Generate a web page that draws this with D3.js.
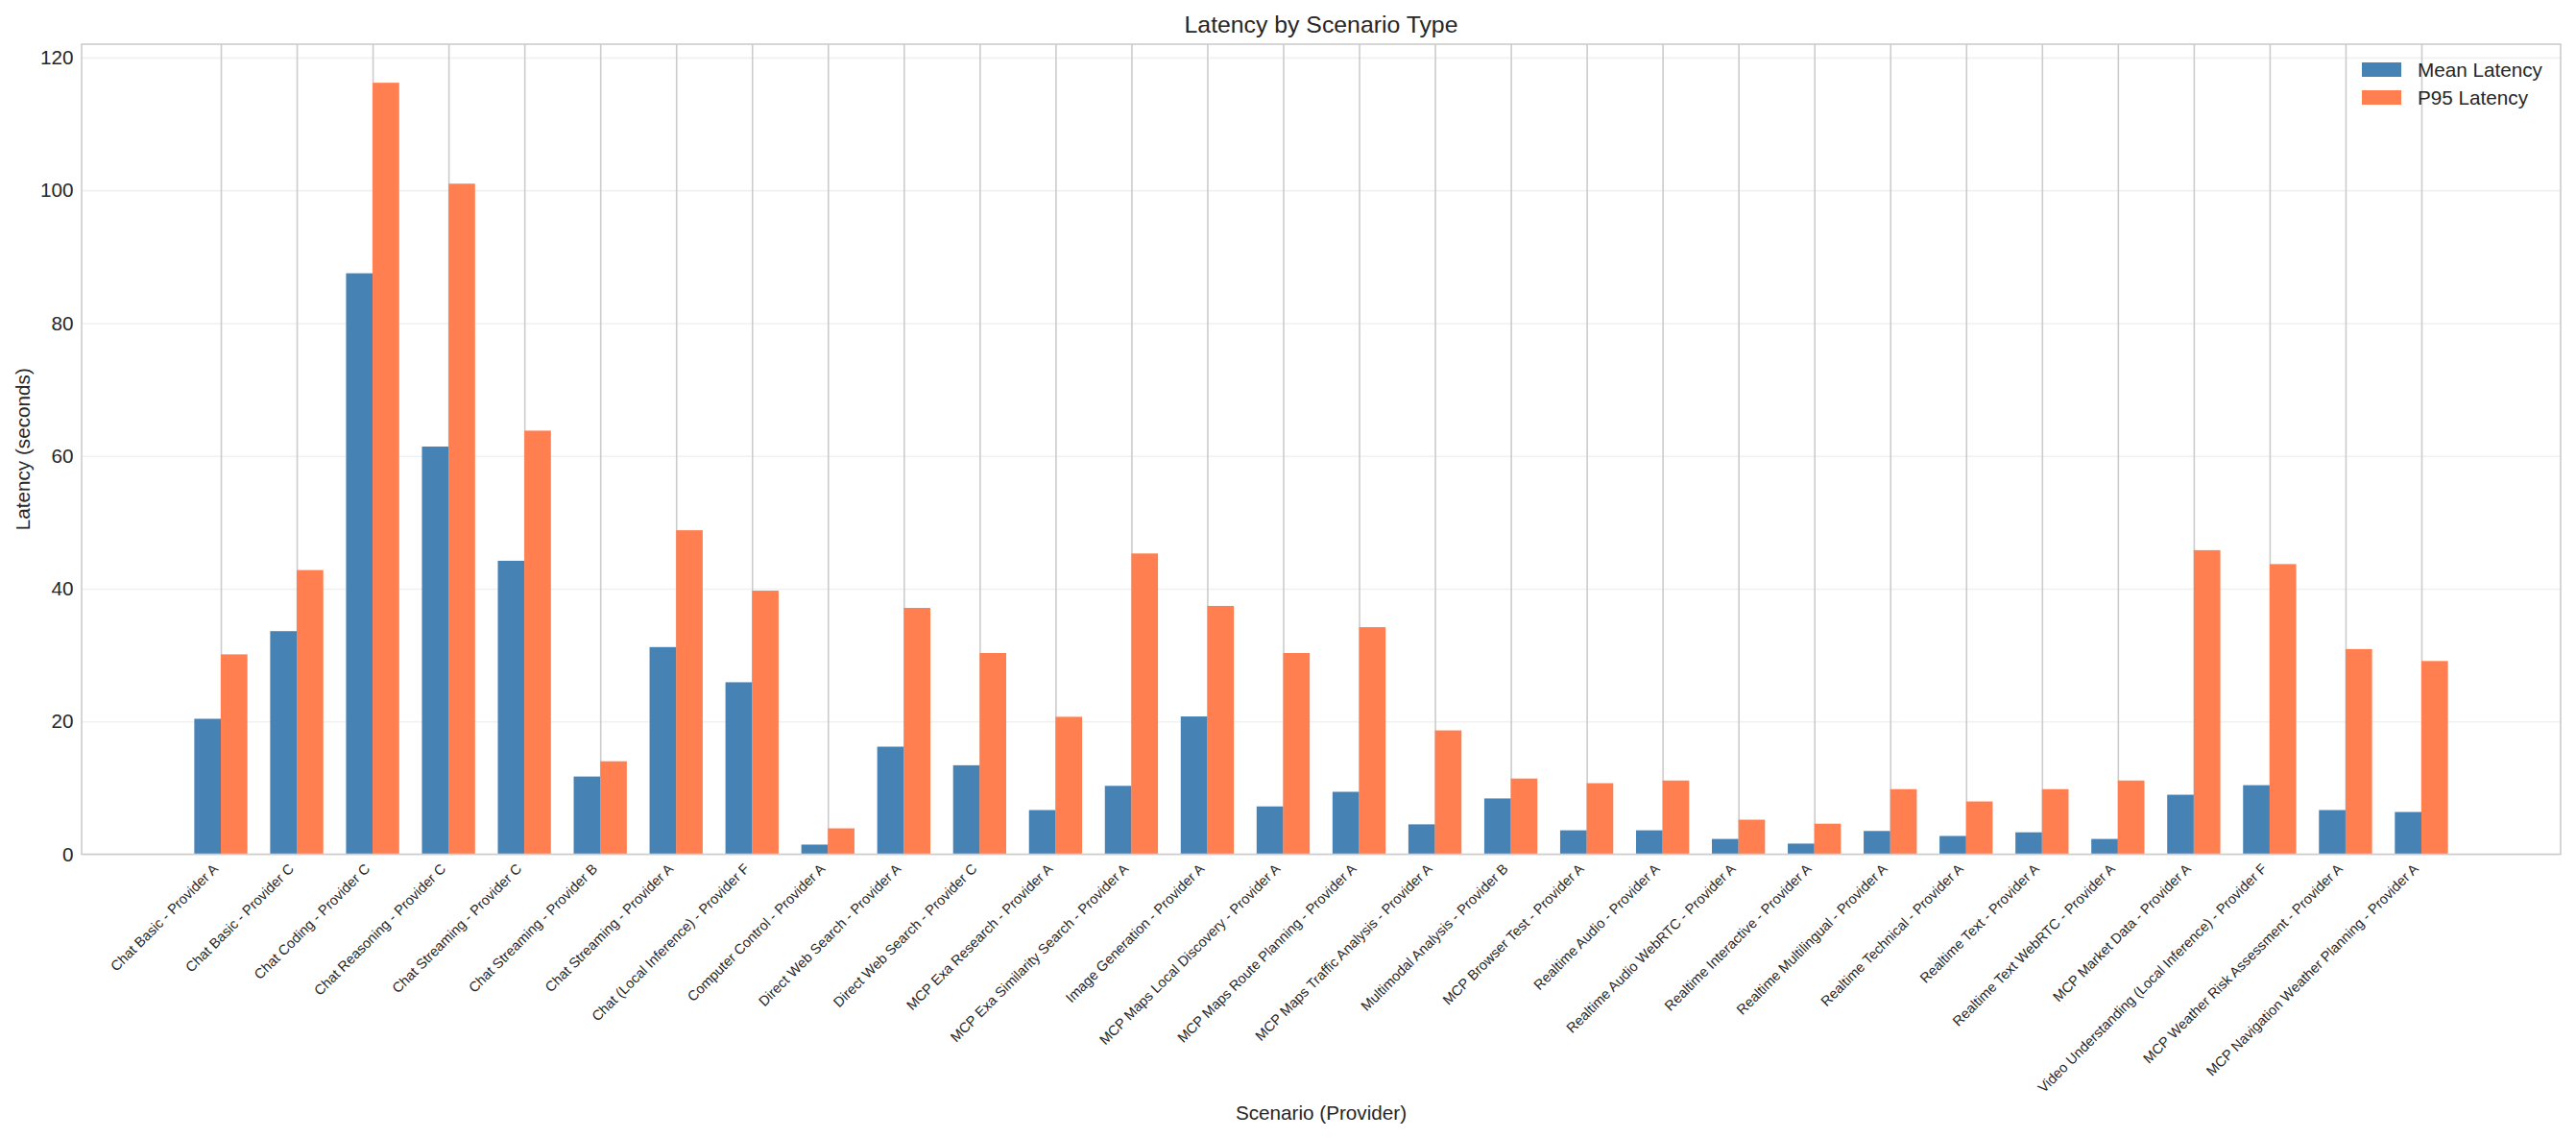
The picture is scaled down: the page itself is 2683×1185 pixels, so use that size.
<!DOCTYPE html>
<html>
<head>
<meta charset="utf-8">
<script src="https://cdn.jsdelivr.net/npm/d3@7"></script>
<style>
  body { margin: 0; background: #fff; }
  text { font-family: "Liberation Sans", Arial, sans-serif; fill: #262626; }
</style>
</head>
<body>
<script>
// chart data
const scenarios = [
  "Chat Basic - Provider A", "Chat Basic - Provider C", "Chat Coding - Provider C",
  "Chat Reasoning - Provider C", "Chat Streaming - Provider C", "Chat Streaming - Provider B",
  "Chat Streaming - Provider A", "Chat (Local Inference) - Provider F", "Computer Control - Provider A",
  "Direct Web Search - Provider A", "Direct Web Search - Provider C", "MCP Exa Research - Provider A",
  "MCP Exa Similarity Search - Provider A", "Image Generation - Provider A",
  "MCP Maps Local Discovery - Provider A", "MCP Maps Route Planning - Provider A",
  "MCP Maps Traffic Analysis - Provider A", "Multimodal Analysis - Provider B",
  "MCP Browser Test - Provider A", "Realtime Audio - Provider A", "Realtime Audio WebRTC - Provider A",
  "Realtime Interactive - Provider A", "Realtime Multilingual - Provider A",
  "Realtime Technical - Provider A", "Realtime Text - Provider A", "Realtime Text WebRTC - Provider A",
  "MCP Market Data - Provider A", "Video Understanding (Local Inference) - Provider F",
  "MCP Weather Risk Assessment - Provider A", "MCP Navigation Weather Planning - Provider A"
];
const meanLatency = [20.4, 33.6, 87.5, 61.4, 44.2, 11.7, 31.2, 25.9, 1.45, 16.2,
  13.4, 6.65, 10.3, 20.75, 7.2, 9.4, 4.5, 8.4, 3.6, 3.6,
  2.3, 1.6, 3.5, 2.75, 3.3, 2.3, 8.96, 10.4, 6.65, 6.36];
const p95Latency = [30.1, 42.8, 116.2, 101.0, 63.8, 14.0, 48.8, 39.7, 3.9, 37.1,
  30.3, 20.7, 45.3, 37.4, 30.3, 34.2, 18.65, 11.4, 10.7, 11.1,
  5.2, 4.6, 9.8, 7.95, 9.8, 11.1, 45.8, 43.7, 30.9, 29.1];
const yTicks = [0, 20, 40, 60, 80, 100, 120];
const seriesNames = ["Mean Latency", "P95 Latency"];
const seriesColors = ["#4682B4", "#FF7F50"];

const W = 2683, H = 1185;
const plotL = 85, plotR = 2667, plotT = 46, plotB = 889.5;
const barW = 0.35;

const svg = d3.select("body").append("svg")
    .attr("width", W)
    .attr("height", H);

svg.append("rect").attr("width", W).attr("height", H).attr("fill", "#fff");

// matplotlib style margins: 5% of the data span on x, 5% on top for y
const xMin = -barW, xMax = scenarios.length - 1 + barW;
const xPad = (xMax - xMin) * 0.05;
const x = d3.scaleLinear().domain([xMin - xPad, xMax + xPad]).range([plotL, plotR]);
const yMax = d3.max(p95Latency.concat(meanLatency)) * 1.05;
const y = d3.scaleLinear().domain([0, yMax]).range([plotB, plotT]);

// grid
const xAxisGrid = d3.axisBottom(x)
    .tickValues(d3.range(scenarios.length))
    .tickSize(-(plotB - plotT))
    .tickFormat("");
svg.append("g")
    .attr("transform", `translate(0,${plotB})`)
    .call(xAxisGrid)
    .call(g => g.select(".domain").remove())
    .call(g => g.selectAll("line").attr("stroke", "#cccccc").attr("stroke-width", 1.6));

const yAxisGrid = d3.axisLeft(y)
    .tickValues(yTicks)
    .tickSize(-(plotR - plotL))
    .tickFormat("");
svg.append("g")
    .attr("transform", `translate(${plotL},0)`)
    .call(yAxisGrid)
    .call(g => g.select(".domain").remove())
    .call(g => g.selectAll("line").attr("stroke", "#cccccc")
        .attr("stroke-opacity", 0.3).attr("stroke-width", 1.6));

// bars
const series = [meanLatency, p95Latency];
series.forEach((vals, s) => {
  svg.append("g").selectAll("rect")
    .data(vals)
    .enter()
    .append("rect")
    .attr("x", (d, i) => x(i - barW + s * barW))
    .attr("width", x(barW) - x(0))
    .attr("y", d => y(d))
    .attr("height", d => y(0) - y(d))
    .attr("fill", seriesColors[s]);
});

// frame
svg.append("rect")
    .attr("x", plotL).attr("y", plotT)
    .attr("width", plotR - plotL).attr("height", plotB - plotT)
    .attr("fill", "none")
    .attr("stroke", "#cccccc")
    .attr("stroke-width", 1.6);

// y tick labels
const yAxis = d3.axisLeft(y).tickValues(yTicks).tickSize(0).tickPadding(8.5);
svg.append("g")
    .attr("transform", `translate(${plotL},0)`)
    .call(yAxis)
    .call(g => g.select(".domain").remove())
    .call(g => g.selectAll("text")
        .style("font-size", "20.7px")
        .style("font-family", '"Liberation Sans", Arial, sans-serif')
        .attr("fill", "#262626"));

// x tick labels, rotated 45 deg and right aligned
svg.append("g").selectAll("text")
    .data(scenarios)
    .enter()
    .append("text")
    .attr("transform", (d, i) => `translate(${x(i) - 2},${plotB + 16}) rotate(-45)`)
    .attr("text-anchor", "end")
    .style("font-size", "14.6px")
    .text(d => d);

// titles
svg.append("text")
    .attr("x", (plotL + plotR) / 2)
    .attr("y", 34)
    .attr("text-anchor", "middle")
    .style("font-size", "24.8px")
    .text("Latency by Scenario Type");

svg.append("text")
    .attr("x", (plotL + plotR) / 2)
    .attr("y", 1166)
    .attr("text-anchor", "middle")
    .style("font-size", "20.7px")
    .text("Scenario (Provider)");

svg.append("text")
    .attr("transform", `translate(31,${(plotT + plotB) / 2}) rotate(-90)`)
    .attr("text-anchor", "middle")
    .style("font-size", "20.7px")
    .text("Latency (seconds)");

// legend
const legend = svg.append("g").attr("transform", "translate(2460,65)");
seriesNames.forEach((name, s) => {
  legend.append("rect")
    .attr("x", 0).attr("y", s * 29)
    .attr("width", 41).attr("height", 15)
    .attr("fill", seriesColors[s]);
  legend.append("text")
    .attr("x", 58).attr("y", s * 29 + 7.5)
    .attr("dy", "0.35em")
    .style("font-size", "20.7px")
    .text(name);
});
</script>
</body>
</html>
